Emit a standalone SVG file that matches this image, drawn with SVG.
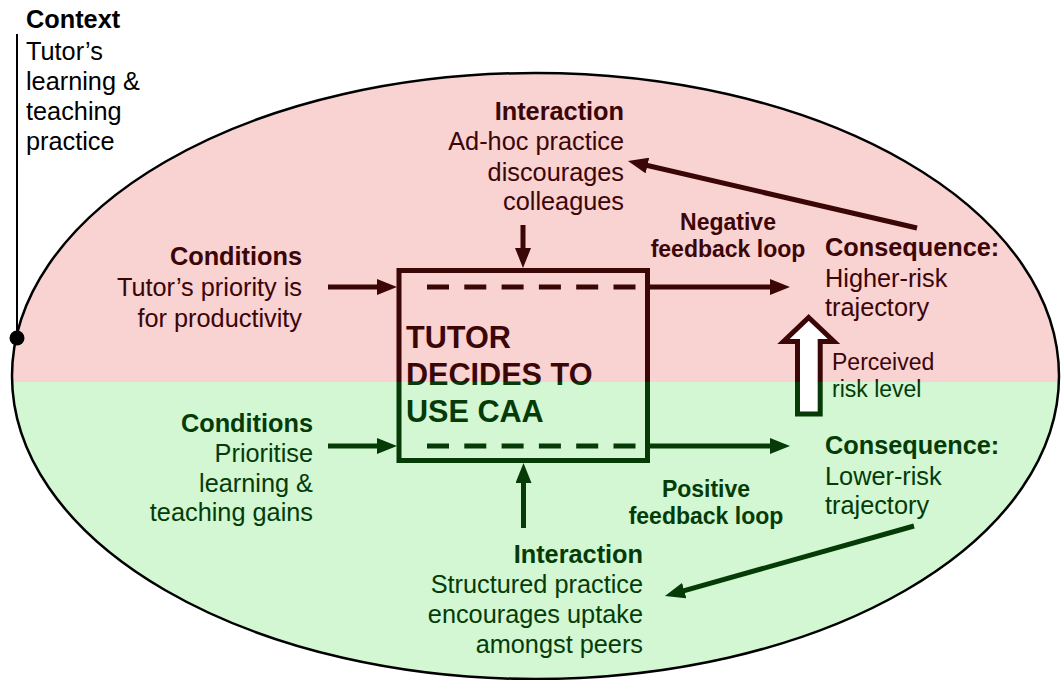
<svg xmlns="http://www.w3.org/2000/svg" width="1061" height="680" viewBox="0 0 1061 680">
  <defs>
    <linearGradient id="bg" gradientUnits="userSpaceOnUse" x1="0" y1="0" x2="0" y2="680">
      <stop offset="0.5618" stop-color="#f9d2d2"/>
      <stop offset="0.5618" stop-color="#d2f7d2"/>
    </linearGradient>
    <linearGradient id="ink" gradientUnits="userSpaceOnUse" x1="0" y1="0" x2="0" y2="680">
      <stop offset="0.5618" stop-color="#3a0606"/>
      <stop offset="0.5618" stop-color="#063a06"/>
    </linearGradient>
    <marker id="headR" markerUnits="userSpaceOnUse" markerWidth="20" markerHeight="16" viewBox="0 0 20 16" refX="10" refY="8" orient="auto">
      <path d="M0,0 L20,8 L0,16 z" fill="#3a0606"/>
    </marker>
    <marker id="headG" markerUnits="userSpaceOnUse" markerWidth="20" markerHeight="16" viewBox="0 0 20 16" refX="10" refY="8" orient="auto">
      <path d="M0,0 L20,8 L0,16 z" fill="#063a06"/>
    </marker>
  </defs>
  <style>
    text { font-family: "Liberation Sans", Arial, sans-serif; font-size: 25.3px; fill: url(#ink); }
    .ctx { fill: #000; }
    .b { font-weight: bold; }
    .r { text-anchor: end; }
    .m { text-anchor: middle; }
    .big { font-size: 30.6px; font-weight: bold; }
    .sm { font-size: 23px; }
    .conn { fill: none; stroke-width: 5; }
    .red { stroke: #3a0606; marker-end: url(#headR); }
    .grn { stroke: #063a06; marker-end: url(#headG); }
  </style>

  <g id="field">
    <ellipse cx="535.5" cy="376" rx="523.5" ry="303" fill="url(#bg)" stroke="#000" stroke-width="2.5"/>
  </g>

  <g id="context">
    <line x1="17" y1="34" x2="17" y2="338" stroke="#000" stroke-width="2"/>
    <circle cx="17" cy="338" r="7.5" fill="#000"/>
    <text class="ctx b" x="26" y="28">Context</text>
    <text class="ctx" x="26" y="59.5">Tutor’s</text>
    <text class="ctx" x="26" y="90">learning &amp;</text>
    <text class="ctx" x="26" y="120">teaching</text>
    <text class="ctx" x="26" y="150">practice</text>
  </g>

  <g id="decision">
    <rect x="399" y="270.5" width="248.5" height="190" fill="none" stroke="url(#ink)" stroke-width="5"/>
    <line x1="427" y1="287" x2="636" y2="287" stroke="#3a0606" stroke-width="5" stroke-dasharray="22 15.3"/>
    <line x1="427" y1="446" x2="636" y2="446" stroke="#063a06" stroke-width="5" stroke-dasharray="22 15.3"/>
    <text class="big" x="406" y="348">TUTOR</text>
    <text class="big" x="406" y="385">DECIDES TO</text>
    <text class="big" x="406" y="422">USE CAA</text>
  </g>

  <g id="interaction-top">
    <text class="b r" x="624" y="120">Interaction</text>
    <text class="r" x="624" y="150">Ad-hoc practice</text>
    <text class="r" x="624" y="180.5">discourages</text>
    <text class="r" x="624" y="210">colleagues</text>
  </g>

  <g id="conditions-top">
    <text class="b r" x="302" y="265">Conditions</text>
    <text class="r" x="302" y="296">Tutor’s priority is</text>
    <text class="r" x="302" y="326.5">for productivity</text>
  </g>

  <g id="conditions-bottom">
    <text class="b r" x="313" y="431.5">Conditions</text>
    <text class="r" x="313" y="461.5">Prioritise</text>
    <text class="r" x="313" y="491.5">learning &amp;</text>
    <text class="r" x="313" y="521">teaching gains</text>
  </g>

  <g id="interaction-bottom">
    <text class="b r" x="643" y="562.5">Interaction</text>
    <text class="r" x="643" y="593">Structured practice</text>
    <text class="r" x="643" y="623">encourages uptake</text>
    <text class="r" x="643" y="653">amongst peers</text>
  </g>

  <g id="negative-loop">
    <text class="b m sm" x="728" y="230">Negative</text>
    <text class="b m sm" x="728" y="256.5">feedback loop</text>
  </g>

  <g id="positive-loop">
    <text class="b m sm" x="706" y="497">Positive</text>
    <text class="b m sm" x="706" y="523.5">feedback loop</text>
  </g>

  <g id="consequence-top">
    <text class="b" x="825" y="255.5">Consequence:</text>
    <text x="825" y="286.5">Higher-risk</text>
    <text x="825" y="315.5">trajectory</text>
  </g>

  <g id="consequence-bottom">
    <text class="b" x="825" y="453.5">Consequence:</text>
    <text x="825" y="485">Lower-risk</text>
    <text x="825" y="514">trajectory</text>
  </g>

  <g id="risk">
    <polygon points="808.7,317.5 834,341.5 820.2,341.5 820.2,414 797.5,414 797.5,341.5 783.5,341.5" fill="#fff" stroke="url(#ink)" stroke-width="5" stroke-linejoin="miter"/>
    <text class="sm" x="832" y="370">Perceived</text>
    <text class="sm" x="832" y="396.5">risk level</text>
  </g>

  <g id="connectors">
    <line class="conn red" x1="328" y1="287" x2="387" y2="287"/>
    <line class="conn grn" x1="328" y1="446" x2="387" y2="446"/>
    <line class="conn red" x1="523" y1="225" x2="523" y2="258"/>
    <line class="conn grn" x1="523.5" y1="528" x2="523.5" y2="473"/>
    <line class="conn red" x1="650" y1="287" x2="780" y2="287"/>
    <line class="conn grn" x1="650" y1="446" x2="780" y2="446"/>
    <line class="conn red" x1="917" y1="228" x2="637.7" y2="163.3"/>
    <line class="conn grn" x1="914" y1="526" x2="674.6" y2="593.3"/>
  </g>
</svg>
